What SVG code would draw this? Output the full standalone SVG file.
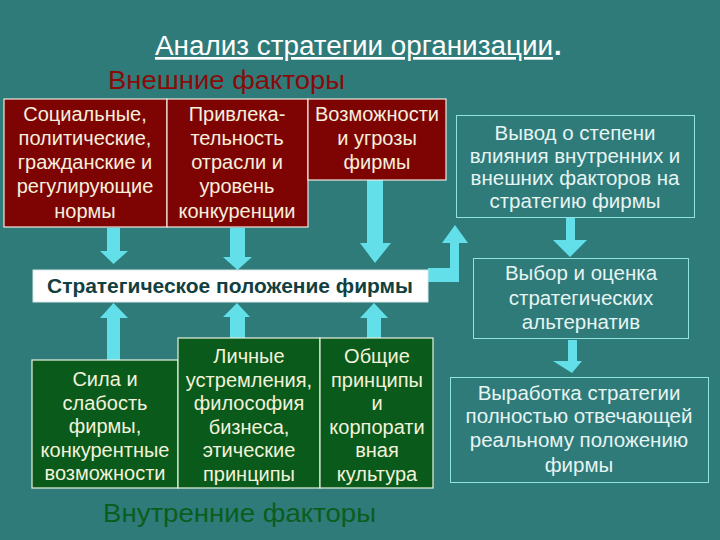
<svg xmlns="http://www.w3.org/2000/svg" width="720" height="540" viewBox="0 0 720 540">
<style>
.bg{fill:#2e7b7a}
.red{fill:#7e0404;stroke:#f2e8e0;stroke-width:1.2}
.green{fill:#0a5a1b;stroke:#e8f0e0;stroke-width:1.2}
.out{fill:none;stroke:#8fe3e3;stroke-width:1}
.wbox{fill:#ffffff;stroke:#d8e8e8;stroke-width:1}
.t{font-family:"Liberation Sans",Arial,sans-serif;font-size:20px;text-anchor:middle}
.tr{fill:#f6efdc}
.tg{fill:#f2f2da}
.tc{fill:#e6f4f2;font-size:20.5px}
.arr{fill:#62dfe8}
</style>
<rect class="bg" x="0" y="0" width="720" height="540"/>

<g id="title">
<text x="155" y="55" font-family="'Liberation Sans',Arial,sans-serif" font-size="27" fill="#ffffff" text-decoration="underline" textLength="398" lengthAdjust="spacingAndGlyphs">Анализ стратегии организации</text>
<text x="554" y="55" font-family="'Liberation Sans',Arial,sans-serif" font-size="27" font-weight="bold" fill="#ffffff">.</text>
</g>
<g id="external-label">
<text x="108" y="89" font-family="'Liberation Sans',Arial,sans-serif" font-size="26" fill="#8a0a0a" textLength="237" lengthAdjust="spacingAndGlyphs">Внешние факторы</text>
</g>

<g id="connectors">
<polygon class="arr" points="107,228 120,228 120,251 128,251 113.5,264 100,251 107,251"/>
<polygon class="arr" points="230,228 245,228 245,257 252,257 237.5,270 223,257 230,257"/>
<polygon class="arr" points="367,180 383,180 383,243 391,243 375,263 360,243 367,243"/>
<polygon class="arr" points="113.5,303 128,318 120,318 120,360 107,360 107,318 100,318"/>
<polygon class="arr" points="237,303 250,317 245,317 245,338 230,338 230,317 223,317"/>
<polygon class="arr" points="374,303 388,318 381,318 381,338 367,338 367,318 360,318"/>
<polygon class="arr" points="428,268 450,268 450,243 442,243 455,225 468,243 459,243 459,282 428,282"/>
<polygon class="arr" points="566,218 575,218 575,240 587,240 570,257 553,240 566,240"/>
<polygon class="arr" points="568,340 577,340 577,361 582,361 572,373 553,361 568,361"/>
</g>

<g id="social">
<rect class="red" x="4" y="99" width="163" height="128"/>
<text class="t tr" x="85" y="121">Социальные,</text>
<text class="t tr" x="85" y="145">политические,</text>
<text class="t tr" x="85" y="169">гражданские и</text>
<text class="t tr" x="85" y="193">регулирующие</text>
<text class="t tr" x="85" y="218">нормы</text>
</g>
<g id="attractiveness">
<rect class="red" x="167" y="99" width="141" height="128"/>
<text class="t tr" x="237" y="121">Привлека-</text>
<text class="t tr" x="237" y="145">тельность</text>
<text class="t tr" x="237" y="169">отрасли и</text>
<text class="t tr" x="237" y="193">уровень</text>
<text class="t tr" x="237" y="218">конкуренции</text>
</g>
<g id="opportunities">
<rect class="red" x="308" y="99" width="138" height="81"/>
<text class="t tr" x="377" y="121">Возможности</text>
<text class="t tr" x="377" y="145">и угрозы</text>
<text class="t tr" x="377" y="169">фирмы</text>
</g>

<g id="strategic-position">
<rect class="wbox" x="33" y="270" width="395" height="32"/>
<text x="230" y="293" font-family="'Liberation Sans',Arial,sans-serif" font-size="20" font-weight="bold" fill="#123f3f" text-anchor="middle" textLength="366" lengthAdjust="spacingAndGlyphs">Стратегическое положение фирмы</text>
</g>

<g id="strength">
<rect class="green" x="32" y="360" width="146" height="128"/>
<text class="t tg" x="105" y="386">Сила и</text>
<text class="t tg" x="105" y="409.5">слабость</text>
<text class="t tg" x="105" y="433">фирмы,</text>
<text class="t tg" x="105" y="456.5">конкурентные</text>
<text class="t tg" x="105" y="480">возможности</text>
</g>
<g id="personal">
<rect class="green" x="178" y="338" width="142" height="150"/>
<text class="t tg" x="249" y="363">Личные</text>
<text class="t tg" x="249" y="386.5">устремления,</text>
<text class="t tg" x="249" y="410">философия</text>
<text class="t tg" x="249" y="433.5">бизнеса,</text>
<text class="t tg" x="249" y="457">этические</text>
<text class="t tg" x="249" y="480.5">принципы</text>
</g>
<g id="culture">
<rect class="green" x="320" y="338" width="113" height="150"/>
<text class="t tg" x="377" y="363">Общие</text>
<text class="t tg" x="377" y="386.5">принципы</text>
<text class="t tg" x="377" y="410">и</text>
<text class="t tg" x="377" y="433.5">корпорати</text>
<text class="t tg" x="377" y="457">вная</text>
<text class="t tg" x="377" y="480.5">культура</text>
</g>

<g id="internal-label">
<text x="103" y="522" font-family="'Liberation Sans',Arial,sans-serif" font-size="26" fill="#0b5d1e" textLength="273" lengthAdjust="spacingAndGlyphs">Внутренние факторы</text>
</g>

<g id="conclusion">
<rect class="out" x="456.5" y="115.5" width="238" height="102"/>
<text class="t tc" x="575" y="140">Вывод о степени</text>
<text class="t tc" x="575" y="162.5">влияния внутренних и</text>
<text class="t tc" x="575" y="185">внешних факторов на</text>
<text class="t tc" x="575" y="207.5">стратегию фирмы</text>
</g>
<g id="choice">
<rect class="out" x="473.5" y="258.5" width="215" height="80"/>
<text class="t tc" x="581" y="280">Выбор и оценка</text>
<text class="t tc" x="581" y="305">стратегических</text>
<text class="t tc" x="581" y="329">альтернатив</text>
</g>
<g id="development">
<rect class="out" x="450.5" y="377.5" width="258" height="105"/>
<text class="t tc" x="579" y="400">Выработка стратегии</text>
<text class="t tc" x="579" y="423">полностью отвечающей</text>
<text class="t tc" x="579" y="447">реальному положению</text>
<text class="t tc" x="579" y="472">фирмы</text>
</g>
</svg>
